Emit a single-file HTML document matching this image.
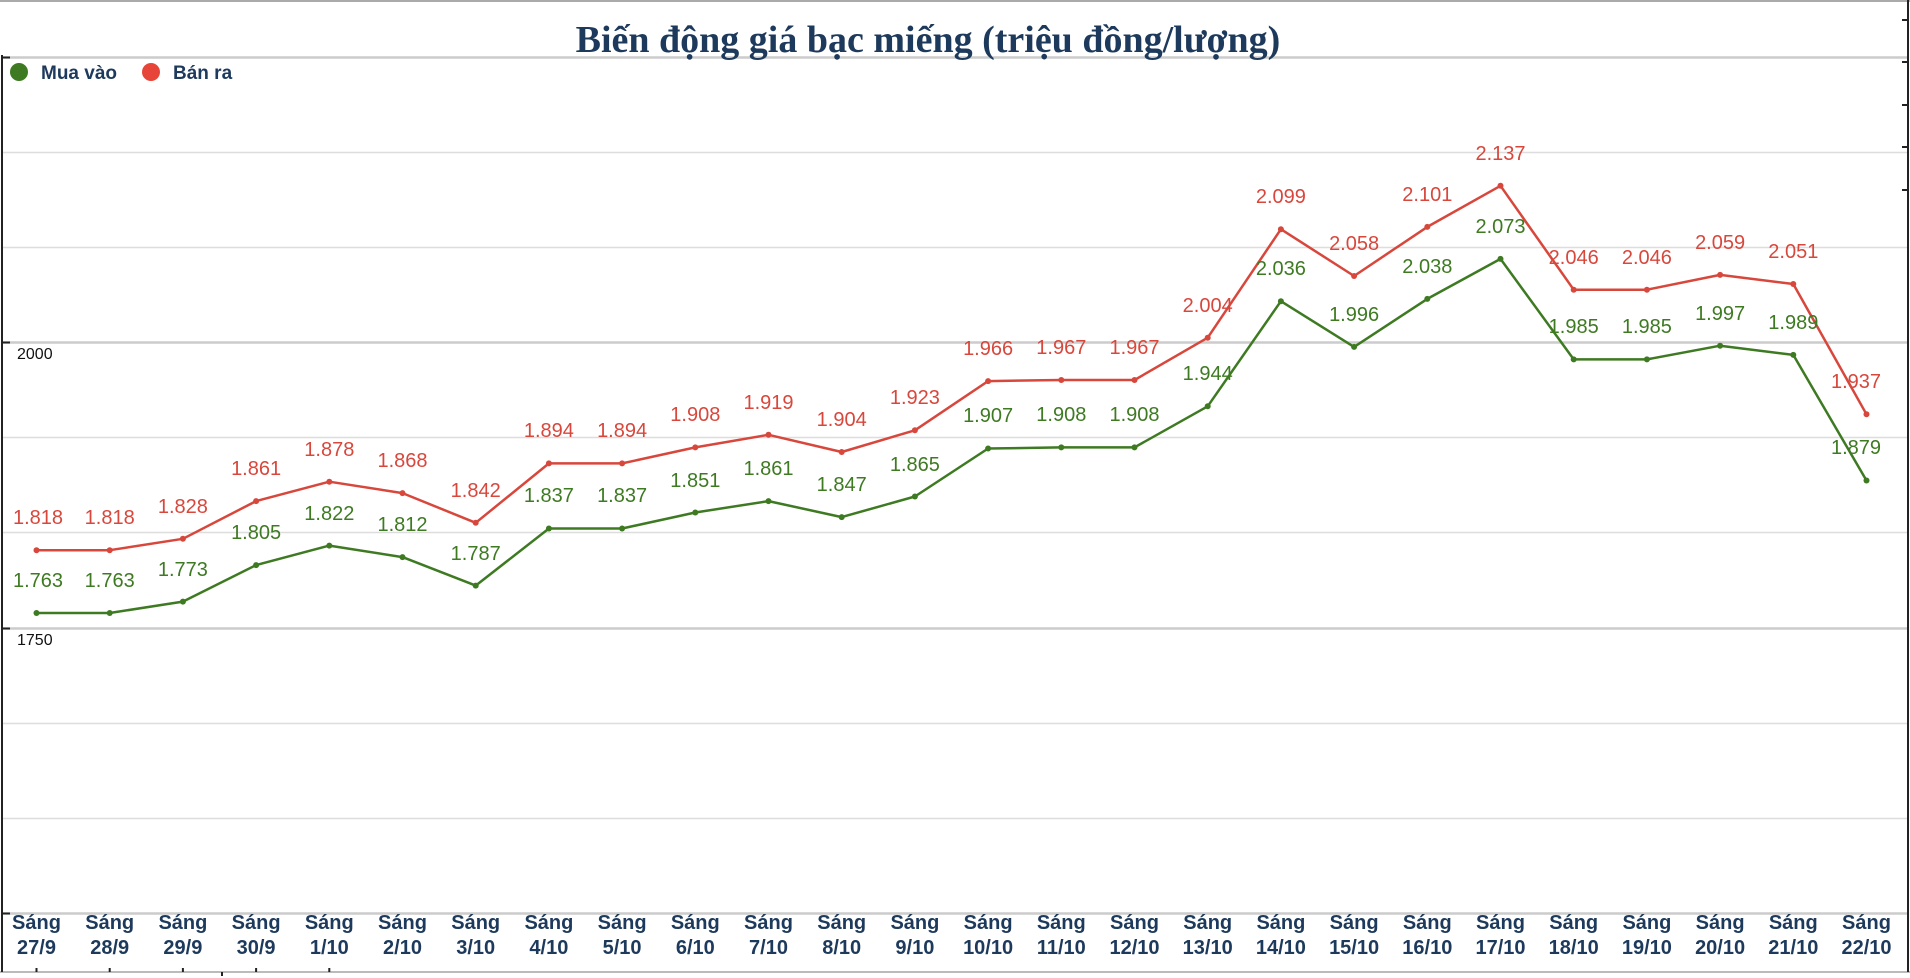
<!DOCTYPE html>
<html><head><meta charset="utf-8"><style>
html,body{margin:0;padding:0;background:#fff;width:1910px;height:978px;overflow:hidden}
svg{display:block}
.t{font-family:"Liberation Sans",sans-serif;font-size:20px}
.r{fill:#d8473c}.g{fill:#3e7a22}
.x{font-family:"Liberation Sans",sans-serif;font-weight:bold;font-size:20px;fill:#1d3a5c}
</style></head><body>
<svg width="1910" height="978" viewBox="0 0 1910 978">
<rect width="1910" height="978" fill="#fff"/>
<line x1="0" y1="1" x2="1910" y2="1" stroke="#aaa" stroke-width="2"/>
<g stroke="#ddd" stroke-width="1.5">
<line x1="2" y1="57.5" x2="1908" y2="57.5" stroke="#ccc" stroke-width="2.5"/>
<line x1="2" y1="152.5" x2="1908" y2="152.5"/>
<line x1="2" y1="247.5" x2="1908" y2="247.5"/>
<line x1="2" y1="342.5" x2="1908" y2="342.5" stroke="#ccc" stroke-width="2.5"/>
<line x1="2" y1="437.5" x2="1908" y2="437.5"/>
<line x1="2" y1="532.5" x2="1908" y2="532.5"/>
<line x1="2" y1="628.5" x2="1908" y2="628.5" stroke="#ccc" stroke-width="2.5"/>
<line x1="2" y1="723.5" x2="1908" y2="723.5"/>
<line x1="2" y1="818.5" x2="1908" y2="818.5"/>
<line x1="2" y1="913.5" x2="1908" y2="913.5" stroke="#ccc" stroke-width="2.5"/>
<line x1="0" y1="972" x2="1910" y2="972" stroke="#bbb" stroke-width="2"/>
</g>
<line x1="2" y1="55" x2="2" y2="972" stroke="#222" stroke-width="2"/>
<line x1="1908" y1="0" x2="1908" y2="972" stroke="#222" stroke-width="2"/>
<g stroke="#222" stroke-width="2">
<line x1="2" y1="57.5" x2="10" y2="57.5"/><line x1="2" y1="342.5" x2="10" y2="342.5"/><line x1="2" y1="628.5" x2="10" y2="628.5"/><line x1="2" y1="913.5" x2="10" y2="913.5"/>
<line x1="1902" y1="20" x2="1908" y2="20"/><line x1="1902" y1="62" x2="1908" y2="62"/><line x1="1902" y1="105" x2="1908" y2="105"/><line x1="1902" y1="147" x2="1908" y2="147"/><line x1="1902" y1="190" x2="1908" y2="190"/>
</g>
<text x="928" y="52" text-anchor="middle" font-family="Liberation Serif,serif" font-weight="bold" font-size="38" fill="#1d3a5c">Biến động giá bạc miếng (triệu đồng/lượng)</text>
<circle cx="19" cy="72" r="9" fill="#3e7a22"/>
<text x="41" y="79" font-family="Liberation Sans,sans-serif" font-weight="bold" font-size="19" fill="#1d3a5c">Mua vào</text>
<circle cx="151" cy="72" r="9" fill="#e8453a"/>
<text x="173" y="79" font-family="Liberation Sans,sans-serif" font-weight="bold" font-size="19" fill="#1d3a5c">Bán ra</text>
<text x="17" y="359" font-family="Liberation Sans,sans-serif" font-size="16" fill="#111">2000</text>
<text x="17" y="645" font-family="Liberation Sans,sans-serif" font-size="16" fill="#111">1750</text>

<polyline fill="none" stroke="#3e7a22" stroke-width="2.5" stroke-linejoin="round" points="36.5,613 109.7,613 182.9,601.6 256.1,565.1 329.3,545.6 402.5,557.1 475.7,585.6 548.9,528.5 622.1,528.5 695.3,512.5 768.5,501.1 841.7,517.1 914.9,496.5 988.1,448.5 1061.3,447.4 1134.5,447.4 1207.7,406.3 1280.9,301.2 1354.1,346.9 1427.3,298.9 1500.5,258.9 1573.7,359.4 1646.9,359.4 1720.1,345.7 1793.3,354.9 1866.5,480.5"/>
<polyline fill="none" stroke="#d8473c" stroke-width="2.5" stroke-linejoin="round" points="36.5,550.2 109.7,550.2 182.9,538.8 256.1,501.1 329.3,481.7 402.5,493.1 475.7,522.8 548.9,463.4 622.1,463.4 695.3,447.4 768.5,434.8 841.7,452 914.9,430.3 988.1,381.1 1061.3,380 1134.5,380 1207.7,337.7 1280.9,229.2 1354.1,276 1427.3,226.9 1500.5,185.8 1573.7,289.7 1646.9,289.7 1720.1,274.9 1793.3,284 1866.5,414.3"/>
<g fill="#3e7a22">
<circle cx="36.5" cy="613" r="3"/><circle cx="109.7" cy="613" r="3"/><circle cx="182.9" cy="601.6" r="3"/><circle cx="256.1" cy="565.1" r="3"/><circle cx="329.3" cy="545.6" r="3"/><circle cx="402.5" cy="557.1" r="3"/><circle cx="475.7" cy="585.6" r="3"/><circle cx="548.9" cy="528.5" r="3"/><circle cx="622.1" cy="528.5" r="3"/><circle cx="695.3" cy="512.5" r="3"/><circle cx="768.5" cy="501.1" r="3"/><circle cx="841.7" cy="517.1" r="3"/><circle cx="914.9" cy="496.5" r="3"/><circle cx="988.1" cy="448.5" r="3"/><circle cx="1061.3" cy="447.4" r="3"/><circle cx="1134.5" cy="447.4" r="3"/><circle cx="1207.7" cy="406.3" r="3"/><circle cx="1280.9" cy="301.2" r="3"/><circle cx="1354.1" cy="346.9" r="3"/><circle cx="1427.3" cy="298.9" r="3"/><circle cx="1500.5" cy="258.9" r="3"/><circle cx="1573.7" cy="359.4" r="3"/><circle cx="1646.9" cy="359.4" r="3"/><circle cx="1720.1" cy="345.7" r="3"/><circle cx="1793.3" cy="354.9" r="3"/><circle cx="1866.5" cy="480.5" r="3"/>
</g>
<g fill="#d8473c">
<circle cx="36.5" cy="550.2" r="3"/><circle cx="109.7" cy="550.2" r="3"/><circle cx="182.9" cy="538.8" r="3"/><circle cx="256.1" cy="501.1" r="3"/><circle cx="329.3" cy="481.7" r="3"/><circle cx="402.5" cy="493.1" r="3"/><circle cx="475.7" cy="522.8" r="3"/><circle cx="548.9" cy="463.4" r="3"/><circle cx="622.1" cy="463.4" r="3"/><circle cx="695.3" cy="447.4" r="3"/><circle cx="768.5" cy="434.8" r="3"/><circle cx="841.7" cy="452" r="3"/><circle cx="914.9" cy="430.3" r="3"/><circle cx="988.1" cy="381.1" r="3"/><circle cx="1061.3" cy="380" r="3"/><circle cx="1134.5" cy="380" r="3"/><circle cx="1207.7" cy="337.7" r="3"/><circle cx="1280.9" cy="229.2" r="3"/><circle cx="1354.1" cy="276" r="3"/><circle cx="1427.3" cy="226.9" r="3"/><circle cx="1500.5" cy="185.8" r="3"/><circle cx="1573.7" cy="289.7" r="3"/><circle cx="1646.9" cy="289.7" r="3"/><circle cx="1720.1" cy="274.9" r="3"/><circle cx="1793.3" cy="284" r="3"/><circle cx="1866.5" cy="414.3" r="3"/>
</g>
<g class="t g" text-anchor="middle">
<text x="38" y="587">1.763</text><text x="109.7" y="587">1.763</text><text x="182.9" y="576">1.773</text><text x="256.1" y="539">1.805</text><text x="329.3" y="520">1.822</text><text x="402.5" y="531">1.812</text><text x="475.7" y="560">1.787</text><text x="548.9" y="502">1.837</text><text x="622.1" y="502">1.837</text><text x="695.3" y="487">1.851</text><text x="768.5" y="475">1.861</text><text x="841.7" y="491">1.847</text><text x="914.9" y="471">1.865</text><text x="988.1" y="422">1.907</text><text x="1061.3" y="421">1.908</text><text x="1134.5" y="421">1.908</text><text x="1207.7" y="380">1.944</text><text x="1280.9" y="275">2.036</text><text x="1354.1" y="321">1.996</text><text x="1427.3" y="273">2.038</text><text x="1500.5" y="233">2.073</text><text x="1573.7" y="333">1.985</text><text x="1646.9" y="333">1.985</text><text x="1720.1" y="320">1.997</text><text x="1793.3" y="329">1.989</text><text x="1856" y="454">1.879</text>
</g>
<g class="t r" text-anchor="middle">
<text x="38" y="524">1.818</text><text x="109.7" y="524">1.818</text><text x="182.9" y="513">1.828</text><text x="256.1" y="475">1.861</text><text x="329.3" y="456">1.878</text><text x="402.5" y="467">1.868</text><text x="475.7" y="497">1.842</text><text x="548.9" y="437">1.894</text><text x="622.1" y="437">1.894</text><text x="695.3" y="421">1.908</text><text x="768.5" y="409">1.919</text><text x="841.7" y="426">1.904</text><text x="914.9" y="404">1.923</text><text x="988.1" y="355">1.966</text><text x="1061.3" y="354">1.967</text><text x="1134.5" y="354">1.967</text><text x="1207.7" y="312">2.004</text><text x="1280.9" y="203">2.099</text><text x="1354.1" y="250">2.058</text><text x="1427.3" y="201">2.101</text><text x="1500.5" y="160">2.137</text><text x="1573.7" y="264">2.046</text><text x="1646.9" y="264">2.046</text><text x="1720.1" y="249">2.059</text><text x="1793.3" y="258">2.051</text><text x="1856" y="388">1.937</text>
</g>
<g class="x" text-anchor="middle">
<text x="36.5" y="929">Sáng</text><text x="36.5" y="954">27/9</text>
<text x="109.7" y="929">Sáng</text><text x="109.7" y="954">28/9</text>
<text x="182.9" y="929">Sáng</text><text x="182.9" y="954">29/9</text>
<text x="256.1" y="929">Sáng</text><text x="256.1" y="954">30/9</text>
<text x="329.3" y="929">Sáng</text><text x="329.3" y="954">1/10</text>
<text x="402.5" y="929">Sáng</text><text x="402.5" y="954">2/10</text>
<text x="475.7" y="929">Sáng</text><text x="475.7" y="954">3/10</text>
<text x="548.9" y="929">Sáng</text><text x="548.9" y="954">4/10</text>
<text x="622.1" y="929">Sáng</text><text x="622.1" y="954">5/10</text>
<text x="695.3" y="929">Sáng</text><text x="695.3" y="954">6/10</text>
<text x="768.5" y="929">Sáng</text><text x="768.5" y="954">7/10</text>
<text x="841.7" y="929">Sáng</text><text x="841.7" y="954">8/10</text>
<text x="914.9" y="929">Sáng</text><text x="914.9" y="954">9/10</text>
<text x="988.1" y="929">Sáng</text><text x="988.1" y="954">10/10</text>
<text x="1061.3" y="929">Sáng</text><text x="1061.3" y="954">11/10</text>
<text x="1134.5" y="929">Sáng</text><text x="1134.5" y="954">12/10</text>
<text x="1207.7" y="929">Sáng</text><text x="1207.7" y="954">13/10</text>
<text x="1280.9" y="929">Sáng</text><text x="1280.9" y="954">14/10</text>
<text x="1354.1" y="929">Sáng</text><text x="1354.1" y="954">15/10</text>
<text x="1427.3" y="929">Sáng</text><text x="1427.3" y="954">16/10</text>
<text x="1500.5" y="929">Sáng</text><text x="1500.5" y="954">17/10</text>
<text x="1573.7" y="929">Sáng</text><text x="1573.7" y="954">18/10</text>
<text x="1646.9" y="929">Sáng</text><text x="1646.9" y="954">19/10</text>
<text x="1720.1" y="929">Sáng</text><text x="1720.1" y="954">20/10</text>
<text x="1793.3" y="929">Sáng</text><text x="1793.3" y="954">21/10</text>
<text x="1866.5" y="929">Sáng</text><text x="1866.5" y="954">22/10</text>
</g>
<g stroke="#222" stroke-width="2">
<line x1="36.5" y1="968" x2="36.5" y2="972"/><line x1="109.7" y1="968" x2="109.7" y2="972"/><line x1="182.9" y1="968" x2="182.9" y2="972"/><line x1="256.1" y1="968" x2="256.1" y2="972"/><line x1="329.3" y1="968" x2="329.3" y2="972"/><line x1="222" y1="972" x2="222" y2="976"/>
</g>
</svg>
</body></html>
